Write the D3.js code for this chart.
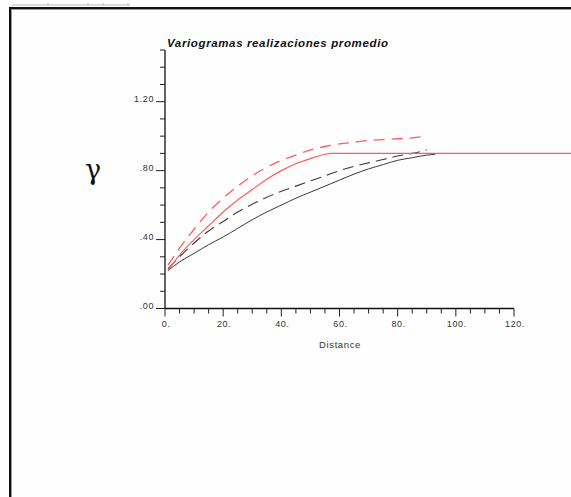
<!DOCTYPE html>
<html>
<head>
<meta charset="utf-8">
<script src="https://cdn.jsdelivr.net/npm/d3@7"></script>
<style>
html,body{margin:0;padding:0;background:#fff;}
svg{display:block;}
</style>
</head>
<body>
<script>
// ---- data ----
const title = "Variogramas realizaciones promedio";
const xLabel = "Distance";
const yLabel = "γ";
const xTicks = [0, 20, 40, 60, 80, 100, 120];
const xTickLabels = ["0.", "20.", "40.", "60.", "80.", "100.", "120."];
const yTicks = [0, 0.4, 0.8, 1.2];
const yTickLabels = [".00", ".40", ".80", "1.20"];

const redSolidX = [1, 5, 10, 15, 20, 25, 30, 35, 40, 45, 50, 55, 57, 140];
const redSolidY = [0.22, 0.31, 0.40, 0.48, 0.56, 0.63, 0.69, 0.75, 0.80, 0.84, 0.87, 0.895, 0.90, 0.90];

const redDashX = [1, 5, 10, 15, 20, 25, 30, 35, 40, 45, 50, 55, 60, 65, 70, 75, 80, 85, 90];
const redDashY = [0.25, 0.35, 0.46, 0.56, 0.64, 0.71, 0.77, 0.82, 0.86, 0.89, 0.92, 0.94, 0.955, 0.965, 0.975, 0.98, 0.985, 0.99, 1.0];

const blackDashX = [1, 5, 10, 15, 20, 25, 30, 35, 40, 45, 50, 55, 60, 65, 70, 75, 80, 85, 90];
const blackDashY = [0.23, 0.30, 0.38, 0.45, 0.505, 0.56, 0.605, 0.645, 0.68, 0.71, 0.74, 0.77, 0.80, 0.825, 0.845, 0.865, 0.885, 0.90, 0.92];

const blackSolidX = [1, 5, 10, 15, 20, 25, 30, 35, 40, 45, 50, 55, 60, 65, 70, 75, 80, 85, 90, 93];
const blackSolidY = [0.22, 0.27, 0.32, 0.37, 0.415, 0.465, 0.515, 0.56, 0.60, 0.64, 0.675, 0.71, 0.745, 0.78, 0.81, 0.835, 0.86, 0.875, 0.89, 0.895];

// ---- drawing ----
const W = 571, H = 497;
const svg = d3.select("body").append("svg").attr("width", W).attr("height", H);
svg.append("rect").attr("width", W).attr("height", H).attr("fill", "#fefefe");

// window frame
svg.append("line").attr("x1", 12).attr("x2", 130).attr("y1", 5).attr("y2", 5).attr("stroke", "#bbb").attr("stroke-width", 1);
[48, 88, 103, 128].forEach(x => svg.append("line").attr("x1", x).attr("x2", x).attr("y1", 3).attr("y2", 6).attr("stroke", "#bbb"));
svg.append("line").attr("x1", 10).attr("x2", W).attr("y1", 8).attr("y2", 8).attr("stroke", "#111").attr("stroke-width", 2);
svg.append("line").attr("x1", 11).attr("x2", W).attr("y1", 9.5).attr("y2", 9.5).attr("stroke", "#999").attr("stroke-width", 1);
svg.append("line").attr("x1", 10).attr("x2", 10).attr("y1", 7).attr("y2", H).attr("stroke", "#111").attr("stroke-width", 2);
svg.append("line").attr("x1", 11.5).attr("x2", 11.5).attr("y1", 9).attr("y2", H).attr("stroke", "#999").attr("stroke-width", 1);

const x = d3.scaleLinear().domain([0, 120]).range([165, 514]);
const y = d3.scaleLinear().domain([0, 1.5]).range([308.5, 50]);

const font = "'Liberation Sans', Arial, sans-serif";

// y axis
const gy = svg.append("g").attr("transform", `translate(${x(0)},0)`);
gy.append("line").attr("x1", 0).attr("x2", 0).attr("y1", y(1.5)).attr("y2", y(0)).attr("stroke", "#111").attr("stroke-width", 1.3);
d3.range(0, 16).forEach(i => {
  const v = i / 10;
  const major = (i % 4 === 0);
  gy.append("line").attr("x1", major ? -9 : -5).attr("x2", 0).attr("y1", y(v)).attr("y2", y(v)).attr("stroke", "#222").attr("stroke-width", 1);
});
yTicks.forEach((v, i) => {
  gy.append("text").attr("x", -11).attr("y", y(v)).attr("text-anchor", "end")
    .attr("font-family", font).attr("font-size", 9).attr("letter-spacing", 0.6).attr("fill", "#333").text(yTickLabels[i]);
});

// x axis
const gx = svg.append("g").attr("transform", `translate(0,${y(0)})`);
gx.append("line").attr("x1", x(0)).attr("x2", x(120)).attr("y1", 0).attr("y2", 0).attr("stroke", "#111").attr("stroke-width", 1.3);
d3.range(0, 25).forEach(i => {
  const v = i * 5;
  const major = (i % 4 === 0);
  gx.append("line").attr("x1", x(v)).attr("x2", x(v)).attr("y1", 0).attr("y2", major ? 8 : 5).attr("stroke", "#222").attr("stroke-width", 1);
});
xTicks.forEach((v, i) => {
  gx.append("text").attr("x", x(v) + 1).attr("y", 18.5).attr("text-anchor", "middle")
    .attr("font-family", font).attr("font-size", 9).attr("letter-spacing", 0.6).attr("fill", "#333").text(xTickLabels[i]);
});

// labels
svg.append("text").attr("x", 167).attr("y", 47).attr("font-family", font).attr("font-size", 11.5)
  .attr("font-weight", "bold").attr("font-style", "italic").attr("fill", "#111")
  .attr("textLength", 221).attr("lengthAdjust", "spacing").text(title);
svg.append("text").attr("x", 340).attr("y", 348).attr("text-anchor", "middle").attr("font-family", font)
  .attr("font-size", 9.5).attr("letter-spacing", 0.6).attr("fill", "#333").text(xLabel);
svg.append("text").attr("x", 93).attr("y", 179).attr("text-anchor", "middle").attr("font-family", "'DejaVu Serif', 'Liberation Serif', serif")
  .attr("font-size", 27).attr("fill", "#111").text(yLabel);

// curves
const line = d3.line().x(d => x(d[0])).y(d => y(d[1])).curve(d3.curveMonotoneX);
const series = [
  {xs: blackSolidX, ys: blackSolidY, color: "#3a3a3a", dash: null, w: 1},
  {xs: blackDashX, ys: blackDashY, color: "#3a3a3a", dash: "11,6", w: 1.1},
  {xs: redSolidX, ys: redSolidY, color: "#ff5c5c", dash: null, w: 1.2},
  {xs: redDashX, ys: redDashY, color: "#ff5c5c", dash: "11,7", w: 1.3}
];
series.forEach(s => {
  const pts = s.xs.map((v, i) => [v, s.ys[i]]);
  svg.append("path").attr("d", line(pts)).attr("fill", "none").attr("stroke", s.color)
    .attr("stroke-width", s.w).attr("stroke-dasharray", s.dash);
});
</script>
</body>
</html>
